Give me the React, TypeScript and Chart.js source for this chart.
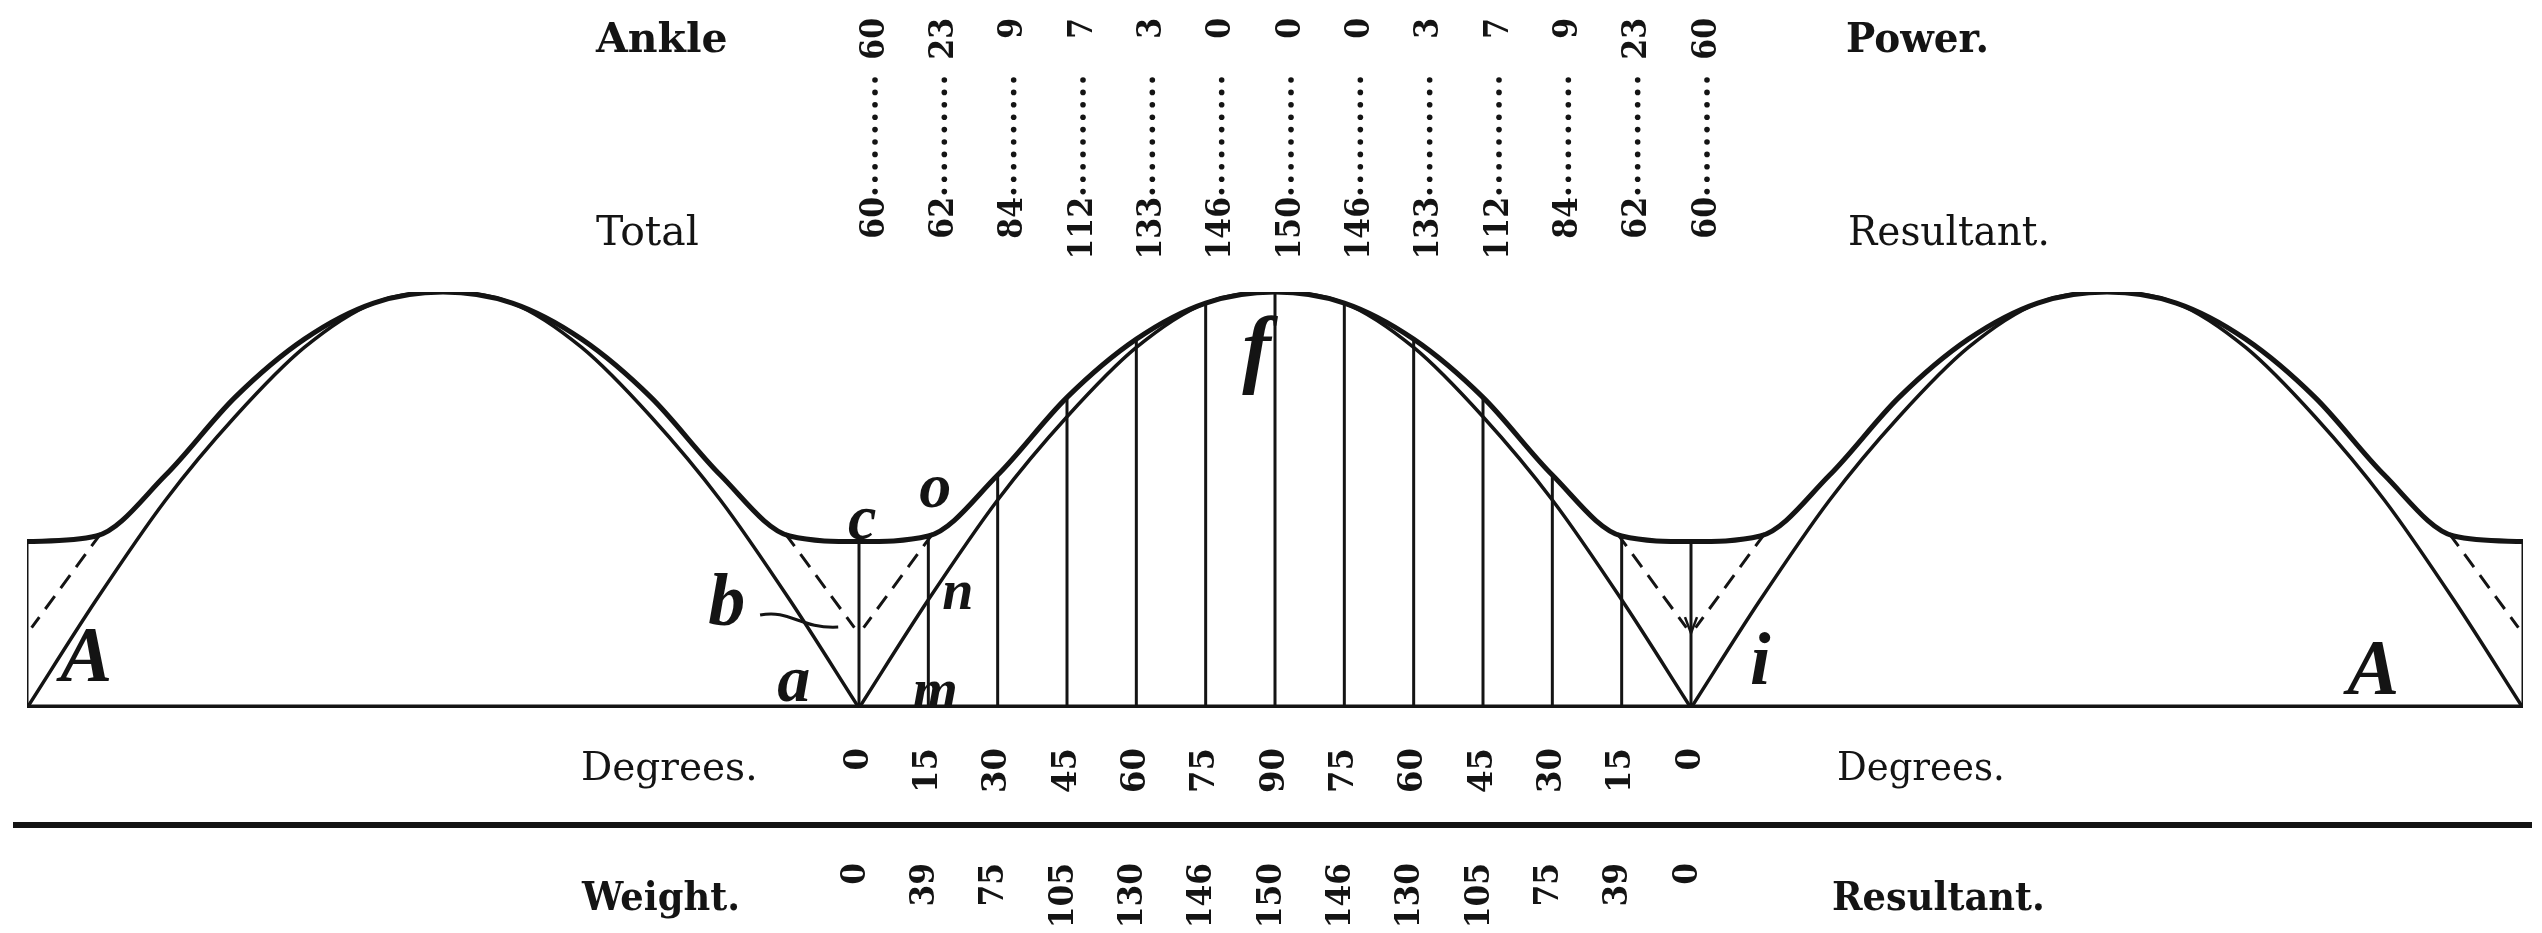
import React, { useEffect, useRef } from "react";
import { Chart, registerables } from "chart.js";

Chart.register(...registerables);

// ---- data ----
const degreeLabels = [0, 15, 30, 45, 60, 75, 90, 75, 60, 45, 30, 15, 0];
const ankleValues = [60, 23, 9, 7, 3, 0, 0, 0, 3, 7, 9, 23, 60];
const totalValues = [60, 62, 84, 112, 133, 146, 150, 146, 133, 112, 84, 62, 60];
const weightValues = [0, 39, 75, 105, 130, 146, 150, 146, 130, 105, 75, 39, 0];
const humpStarts = [0, 180, 360];
const stepDeg = 15;
const tabulatedHumpStart = 180;
const valleyDegrees = [0, 180, 360, 540];
const dashTopDeg = 16;
const dashTopValue = 63;
const dashFootDeg = 1;
const dashFootValue = 29;
const letterTexts = ["A", "a", "b", "c", "o", "n", "m", "f", "i", "A"];
const letterDegrees = [12.8, 165.9, 151.4, 180.7, 196.5, 201.4, 196.5, 266, 375, 507.6];
const letterValues = [17.3, 8.7, 36.8, 67, 78.6, 41, 5.4, 127.6, 15.5, 12.6];

// ---- layout / style ----
const INK = "#141414";
const W = 2542;
const H = 933;
const DV = "'DejaVu Serif', 'Liberation Serif', serif";
const LIB = "'Liberation Serif', 'DejaVu Serif', serif";
const letterSizes = [78, 66, 74, 64, 64, 56, 58, 86, 74, 78];

function rotText(ctx: CanvasRenderingContext2D, text: string, x: number, yTop: number, stretch: number) {
  ctx.save();
  ctx.translate(x, yTop);
  ctx.rotate(-Math.PI / 2);
  ctx.scale(stretch, 1);
  ctx.textAlign = "right";
  ctx.textBaseline = "middle";
  ctx.fillText(text, 0, 0);
  ctx.restore();
}

function label(ctx: CanvasRenderingContext2D, text: string, x: number, y: number, font: string, sx = 1) {
  ctx.save();
  ctx.font = font;
  ctx.translate(x, y);
  ctx.scale(sx, 1);
  ctx.textAlign = "left";
  ctx.textBaseline = "alphabetic";
  ctx.fillText(text, 0, 0);
  ctx.restore();
}

const diagramPlugin = {
  id: "diagramText",
  afterDatasetsDraw(chart: any) {
    const ctx: CanvasRenderingContext2D = chart.ctx;
    const xs = chart.scales.x;
    const ys = chart.scales.y;
    ctx.save();
    ctx.fillStyle = INK;
    ctx.strokeStyle = INK;

    // row labels
    label(ctx, "Ankle", 596, 52, `bold 41px ${DV}`);
    label(ctx, "Power.", 1846, 52, `bold 41px ${DV}`, 0.95);
    label(ctx, "Total", 596, 245, `41px ${DV}`);
    label(ctx, "Resultant.", 1848, 245, `41px ${DV}`, 0.95);
    label(ctx, "Degrees.", 581, 780, `39px ${DV}`);
    label(ctx, "Degrees.", 1837, 780, `39px ${DV}`, 0.95);
    label(ctx, "Weight.", 582, 910, `bold 40px ${DV}`, 0.92);
    label(ctx, "Resultant.", 1832, 910, `bold 40px ${DV}`, 0.92);

    // tabulated columns
    ctx.font = `bold 34px ${DV}`;
    degreeLabels.forEach((d, i) => {
      const px = xs.getPixelForValue(tabulatedHumpStart + i * stepDeg);
      rotText(ctx, String(ankleValues[i]), px + 16, 18, 0.88);
      rotText(ctx, String(totalValues[i]), px + 16, 197, 0.88);
      for (let k = 0; k < 10; k++) {
        ctx.beginPath();
        ctx.arc(px + 16, 80 + k * 12.4, 2.8, 0, Math.PI * 2);
        ctx.fill();
      }
      rotText(ctx, String(d), px, 748, 0.95);
      rotText(ctx, String(weightValues[i]), px - 3, 863, 0.92);
    });

    // separator rule
    ctx.fillRect(13, 822, 2519, 6);

    // script letters
    letterTexts.forEach((t, i) => {
      ctx.font = `italic bold ${letterSizes[i]}px ${LIB}`;
      ctx.textAlign = "center";
      ctx.textBaseline = "middle";
      ctx.fillText(t, xs.getPixelForValue(letterDegrees[i]), ys.getPixelForValue(letterValues[i]));
    });

    // leader from b
    const bx0 = xs.getPixelForValue(158.6);
    const by0 = ys.getPixelForValue(33.5);
    const bx1 = xs.getPixelForValue(175.5);
    const by1 = ys.getPixelForValue(29.2);
    ctx.lineWidth = 3;
    ctx.beginPath();
    ctx.moveTo(bx0, by0);
    ctx.bezierCurveTo(bx0 + 30, by0 - 6, bx0 + 40, by1 + 2, bx1, by1);
    ctx.stroke();

    // small arrowhead at the right valley
    const ax = xs.getPixelForValue(360);
    const ay = ys.getPixelForValue(27);
    ctx.lineWidth = 2.5;
    ctx.beginPath();
    ctx.moveTo(ax - 6, ay - 16);
    ctx.lineTo(ax, ay);
    ctx.lineTo(ax + 6, ay - 16);
    ctx.stroke();

    ctx.restore();
  },
};

function lineDs(data: { x: number; y: number }[], width: number, extra: any = {}) {
  return {
    type: "line",
    data,
    borderColor: INK,
    backgroundColor: INK,
    borderWidth: width,
    pointRadius: 0,
    fill: false,
    tension: 0,
    borderCapStyle: "round",
    ...extra,
  };
}

export default function App() {
  const ref = useRef<HTMLCanvasElement | null>(null);

  useEffect(() => {
    document.body.style.margin = "0";
    document.body.style.overflow = "hidden";
    document.body.style.background = "#ffffff";
    const canvas = ref.current;
    if (!canvas) return;

    const datasets: any[] = [];
    // base line
    datasets.push(lineDs([{ x: 0, y: 0 }, { x: 540, y: 0 }], 7, { borderCapStyle: "butt" }));
    // outer (total resultant) curve
    const outer: { x: number; y: number }[] = [];
    humpStarts.forEach((s, h) =>
      totalValues.forEach((v, i) => {
        if (h > 0 && i === 0) return;
        outer.push({ x: s + i * stepDeg, y: v });
      })
    );
    datasets.push(lineDs(outer, 5, { cubicInterpolationMode: "monotone" }));
    // inner (weight resultant) curves
    humpStarts.forEach((s) =>
      datasets.push(
        lineDs(
          weightValues.map((v, i) => ({ x: s + i * stepDeg, y: v })),
          3.5,
          { cubicInterpolationMode: "monotone" }
        )
      )
    );
    // verticals
    const verticals = [
      { x: 0, y: totalValues[0] },
      ...totalValues.map((v, i) => ({ x: tabulatedHumpStart + i * stepDeg, y: v })),
      { x: 540, y: totalValues[totalValues.length - 1] },
    ];
    verticals.forEach((p) => datasets.push(lineDs([{ x: p.x, y: 0 }, p], 3, { borderCapStyle: "butt" })));
    // dashed lines in each valley
    valleyDegrees.forEach((z) => {
      [-1, 1].forEach((side) => {
        const top = z + side * dashTopDeg;
        if (top < 0 || top > 540) return;
        datasets.push(
          lineDs(
            [
              { x: top, y: dashTopValue },
              { x: z + side * dashFootDeg, y: dashFootValue },
            ],
            3,
            { borderDash: [16, 10], borderCapStyle: "butt" }
          )
        );
      });
    });

    const chart = new Chart(canvas, {
      type: "line",
      data: { datasets },
      options: {
        responsive: false,
        animation: false,
        devicePixelRatio: 1,
        events: [],
        layout: { padding: { left: 27, right: 19, top: 292, bottom: 225 } },
        scales: {
          x: { type: "linear", min: 0, max: 540, display: false },
          y: { type: "linear", min: 0, max: 150, display: false },
        },
        plugins: { legend: { display: false }, tooltip: { enabled: false } },
      },
      plugins: [diagramPlugin],
    } as any);

    return () => chart.destroy();
  }, []);

  return <canvas ref={ref} width={W} height={H} style={{ display: "block", width: W, height: H }} />;
}
